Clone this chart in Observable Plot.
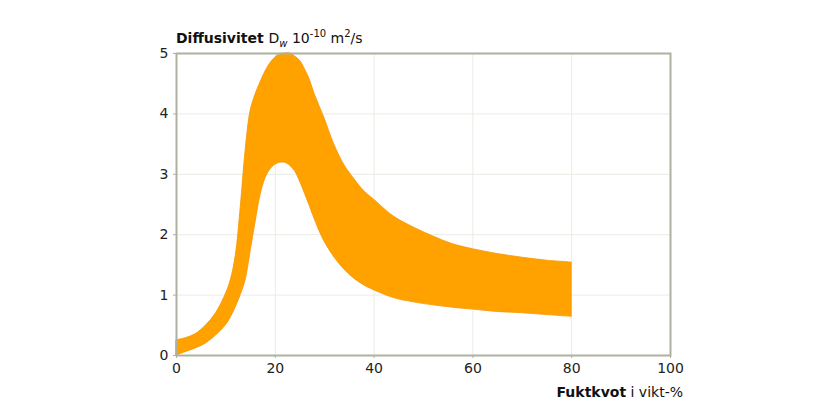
<!DOCTYPE html>
<html>
<head>
<meta charset="utf-8">
<script src="https://cdn.jsdelivr.net/npm/d3@7"></script>
<script src="https://cdn.jsdelivr.net/npm/@observablehq/plot@0.6"></script>
<style>
  html, body { margin: 0; padding: 0; background: #fff; }
</style>
</head>
<body>
<div id="chart"></div>
<script>
const moisture = [0, 2, 4, 6, 8, 10, 11, 12, 13, 14, 15, 16, 17, 18, 19, 20, 21, 22, 23, 24, 25, 26, 27, 28, 29, 30, 32, 34, 36, 38, 40, 44, 48, 52, 56, 60, 65, 70, 75, 80];
const upper = [0.25, 0.29, 0.36, 0.50, 0.70, 1.02, 1.25, 1.65, 2.45, 3.40, 4.05, 4.32, 4.52, 4.70, 4.84, 4.93, 4.99, 5.0, 5.0, 4.95, 4.88, 4.74, 4.56, 4.32, 4.12, 3.92, 3.48, 3.15, 2.92, 2.72, 2.58, 2.30, 2.12, 1.97, 1.84, 1.76, 1.68, 1.62, 1.57, 1.54];
const lower = [0.0, 0.06, 0.12, 0.20, 0.33, 0.50, 0.63, 0.80, 1.00, 1.25, 1.72, 2.20, 2.65, 2.93, 3.08, 3.16, 3.19, 3.19, 3.14, 3.05, 2.88, 2.68, 2.47, 2.25, 2.05, 1.88, 1.62, 1.42, 1.27, 1.16, 1.08, 0.95, 0.88, 0.83, 0.79, 0.76, 0.72, 0.70, 0.67, 0.64];
const xTicks = [0, 20, 40, 60, 80, 100];
const yTicks = [0, 1, 2, 3, 4, 5];

const data = moisture.map((m, i) => ({m, lo: lower[i], hi: upper[i]}));

const frameColor = "#aeb1a0";
const svg = Plot.plot({
  width: 840,
  height: 414,
  marginLeft: 176,
  marginRight: 170,
  marginTop: 53,
  marginBottom: 59,
  style: {fontFamily: "DejaVu Sans, Verdana, sans-serif", fontSize: "14px", color: "#222", background: "#fff"},
  x: {domain: [0, 100], label: null},
  y: {domain: [0, 5], label: null},
  marks: [
    Plot.gridX(xTicks, {stroke: "#ecece4", strokeOpacity: 1}),
    Plot.gridY(yTicks, {stroke: "#ecece4", strokeOpacity: 1}),
    Plot.areaY(data, {x: "m", y1: "lo", y2: "hi", fill: "#ffa200", stroke: "#f79400", strokeWidth: 0.8, curve: "catmull-rom"}),
    Plot.frame({stroke: frameColor, strokeWidth: 2}),
    Plot.axisX({ticks: xTicks, tickFormat: d => String(d), tickSize: 3, tickPadding: 5, stroke: frameColor, fill: "#222", fontSize: 14}),
    Plot.axisY({ticks: yTicks, tickFormat: d => String(d), tickSize: 3, tickPadding: 5, stroke: frameColor, fill: "#222", fontSize: 14})
  ]
});

const s = d3.select(svg);
const title = s.append("text")
  .attr("x", 176).attr("y", 43)
  .attr("text-anchor", "start")
  .attr("fill", "#111")
  .style("font-family", "DejaVu Sans, Verdana, sans-serif")
  .style("font-size", "14px");
title.append("tspan").attr("font-weight", "bold").text("Diffusivitet ");
title.append("tspan").text("D");
title.append("tspan").attr("font-style", "italic").attr("font-size", "10px").attr("dy", 4).text("w");
title.append("tspan").attr("dy", -4).text(" 10");
title.append("tspan").attr("font-size", "10px").attr("dy", -6).text("-10");
title.append("tspan").attr("dy", 6).text(" m");
title.append("tspan").attr("font-size", "10px").attr("dy", -6).text("2");
title.append("tspan").attr("dy", 6).text("/s");

const xlab = s.append("text")
  .attr("x", 683).attr("y", 397)
  .attr("text-anchor", "end")
  .attr("fill", "#111")
  .style("font-family", "DejaVu Sans, Verdana, sans-serif")
  .style("font-size", "14px");
xlab.append("tspan").attr("font-weight", "bold").text("Fuktkvot");
xlab.append("tspan").text(" i vikt-%");

document.getElementById("chart").appendChild(svg);
</script>
</body>
</html>
